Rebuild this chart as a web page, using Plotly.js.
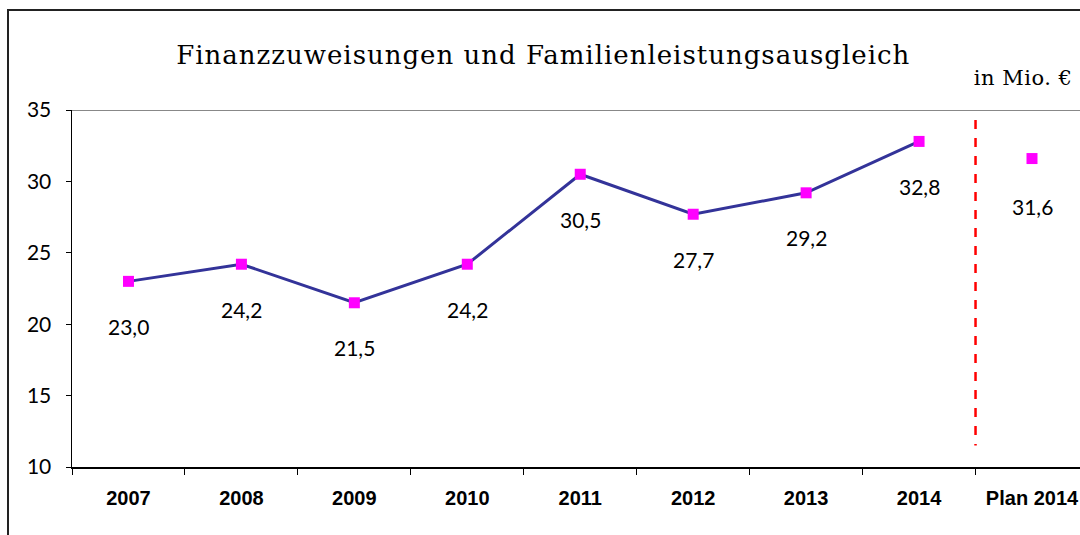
<!DOCTYPE html>
<html>
<head>
<meta charset="utf-8">
<script src="https://cdn.plot.ly/plotly-3.0.1.min.js"></script>
<style>
  html, body { margin: 0; padding: 0; background: #fff; }
  #wrap { position: relative; width: 1080px; height: 535px; overflow: hidden; }
  #frame { position: absolute; left: 7px; top: 9px; width: 1200px; height: 700px; border: 2px solid #222; box-sizing: border-box; pointer-events: none; z-index: 5; }
  #chart { position: absolute; left: 0; top: 0; width: 1080px; height: 535px; }
</style>
</head>
<body>
<div id="wrap">
  <div id="chart"></div>
  <div id="frame"></div>
</div>
<script>
const categories = ["2007", "2008", "2009", "2010", "2011", "2012", "2013", "2014"];
const values = [23.0, 24.2, 21.5, 24.2, 30.5, 27.7, 29.2, 32.8];
const planCategory = ["Plan 2014"];
const planValues = [31.6];
const labelText = ["23,0", "24,2", "21,5", "24,2", "30,5", "27,7", "29,2", "32,8"];
const planLabelText = ["31,6"];
const yTicks = [10, 15, 20, 25, 30, 35];

const allCats = categories.concat(planCategory);

const traces = [
  {
    type: "scatter", mode: "lines+markers",
    x: categories, y: values,
    line: { color: "#333399", width: 3 },
    marker: { symbol: "square", size: 11, color: "#FF00FF" },
    hoverinfo: "skip", showlegend: false
  },
  {
    type: "scatter", mode: "markers",
    x: planCategory, y: planValues,
    marker: { symbol: "square", size: 11, color: "#FF00FF" },
    hoverinfo: "skip", showlegend: false
  }
];

const labelFont = { family: "Lato, 'Open Sans', sans-serif", size: 21, color: "#000" };
const annotations = [];
categories.forEach((c, i) => {
  annotations.push({ x: allCats.indexOf(c), y: values[i], xref: "x", yref: "y", text: labelText[i],
    showarrow: false, yshift: -45, font: labelFont });
});
planCategory.forEach((c, i) => {
  annotations.push({ x: allCats.indexOf(c), y: planValues[i], xref: "x", yref: "y", text: planLabelText[i],
    showarrow: false, yshift: -48, font: labelFont });
});
annotations.push({
  text: "in Mio. €", xref: "paper", yref: "paper", x: 0.992, y: 1.09,
  xanchor: "right", yanchor: "middle", showarrow: false,
  font: { family: "'DejaVu Serif', serif", size: 21, color: "#000" }
});

const layout = {
  width: 1080, height: 535,
  margin: { l: 72, r: 0, t: 110, b: 68 },
  paper_bgcolor: "#fff", plot_bgcolor: "#fff",
  title: {
    text: "Finanzzuweisungen und Familienleistungsausgleich",
    x: 0.503, xref: "container", xanchor: "center",
    y: 1 - 55 / 535, yref: "container", yanchor: "middle",
    font: { family: "'DejaVu Serif', serif", size: 26, color: "#000" }
  },
  xaxis: {
    type: "category", categoryorder: "array", categoryarray: allCats,
    range: [-0.5, 8.425],
    showline: true, linecolor: "#000", linewidth: 1.5,
    ticks: "outside", tickson: "boundaries", ticklen: 6, tickcolor: "#000", tickwidth: 1,
    showgrid: false, zeroline: false,
    tickfont: { family: "'Liberation Sans', Arial, sans-serif", size: 20, color: "#000", weight: "bold" },
    ticklabelstandoff: 12, fixedrange: true
  },
  yaxis: {
    range: [10, 35], tickvals: yTicks, ticktext: yTicks.map(String),
    showline: true, linecolor: "#000", linewidth: 1.5,
    ticks: "outside", ticklen: 5, tickcolor: "#000", tickwidth: 1,
    showgrid: false, zeroline: false,
    tickfont: { family: "Lato, 'Open Sans', sans-serif", size: 21, color: "#000" },
    ticklabelstandoff: 10, fixedrange: true
  },
  shapes: [
    { type: "line", xref: "paper", yref: "y", x0: 0, x1: 1, y0: 35, y1: 35,
      line: { color: "#888", width: 2 } },
    { type: "line", xref: "x", yref: "y", x0: 7.5, x1: 7.5, y0: 34.3, y1: 11.5,
      line: { color: "#FF0000", width: 2.5, dash: "dash" } }
  ],
  annotations: annotations
};

Plotly.newPlot("chart", traces, layout, { displayModeBar: false, staticPlot: true }).then(() => {
  document.querySelectorAll("#chart .gtitle").forEach(t => { t.style.letterSpacing = "1px"; });
  document.querySelectorAll("#chart .annotation-text").forEach(t => {
    if (t.textContent.indexOf("Mio") >= 0) t.style.letterSpacing = "0.5px";
  });
});
</script>
</body>
</html>
